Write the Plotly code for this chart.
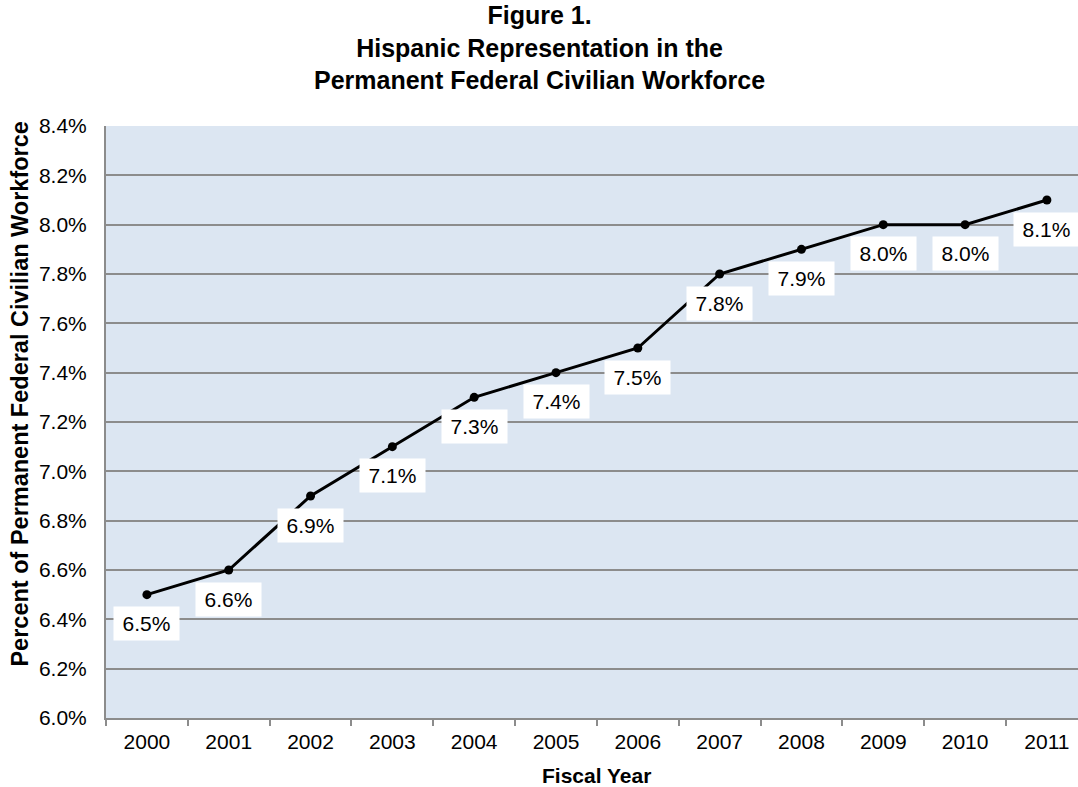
import plotly.graph_objects as go

years = ["2000", "2001", "2002", "2003", "2004", "2005", "2006", "2007", "2008", "2009", "2010", "2011"]
values = [6.5, 6.6, 6.9, 7.1, 7.3, 7.4, 7.5, 7.8, 7.9, 8.0, 8.0, 8.1]
y_ticks = [6.0, 6.2, 6.4, 6.6, 6.8, 7.0, 7.2, 7.4, 7.6, 7.8, 8.0, 8.2, 8.4]

FONT = "Liberation Sans, Arial, sans-serif"

fig = go.Figure()
fig.add_trace(go.Scatter(
    x=years, y=values, mode="lines+markers",
    line=dict(color="black", width=3),
    marker=dict(color="black", size=9),
    showlegend=False, hoverinfo="skip",
))

for i, v in enumerate(values):
    fig.add_annotation(
        x=i, y=v, xref="x", yref="y", text=f"{v:.1f}%",
        showarrow=False, yshift=-29, bgcolor="white", borderpad=0,
        width=65, height=33, font=dict(family=FONT, size=21, color="black"),
    )

# Title and axis titles as annotations (paper coordinates)
fig.add_annotation(
    x=0.4455, y=1.1318, xref="paper", yref="paper", xanchor="center", yanchor="middle",
    text="<b>Figure 1.<br>Hispanic Representation in the<br>Permanent Federal Civilian Workforce</b>",
    showarrow=False, font=dict(family=FONT, size=25, color="black"),
)
fig.add_annotation(
    x=-0.0885, y=0.548, xref="paper", yref="paper", xanchor="center", yanchor="middle",
    text="<b>Percent of Permanent Federal Civilian Workforce</b>", textangle=-90,
    showarrow=False, font=dict(family=FONT, size=23.5, color="black"),
)
fig.add_annotation(
    x=0.505, y=-0.0963, xref="paper", yref="paper", xanchor="center", yanchor="middle",
    text="<b>Fiscal Year</b>",
    showarrow=False, font=dict(family=FONT, size=21, color="black"),
)

fig.update_layout(
    width=1078, height=787,
    margin=dict(l=106, r=0, t=126, b=69),
    paper_bgcolor="white", plot_bgcolor="#DCE6F2",
    font=dict(family=FONT, color="black"),
)

fig.update_xaxes(
    type="category", range=[-0.5, 11.38],
    showgrid=False, showline=True, linecolor="#8C8C8C", linewidth=2,
    ticks="outside", tickson="boundaries", ticklen=6, tickcolor="#8C8C8C", tickwidth=1.5,
    ticklabelstandoff=4,
    tickfont=dict(family=FONT, size=21, color="black"),
)
fig.update_yaxes(
    range=[6.0, 8.4], tickvals=y_ticks, ticktext=[f"{t:.1f}%" for t in y_ticks],
    showgrid=True, gridcolor="#8C8C8C", gridwidth=1.5,
    showline=True, linecolor="#8C8C8C", linewidth=2,
    zeroline=False, ticks="", ticklabelstandoff=13,
    tickfont=dict(family=FONT, size=21, color="black"),
)

fig.write_html("out.html")
